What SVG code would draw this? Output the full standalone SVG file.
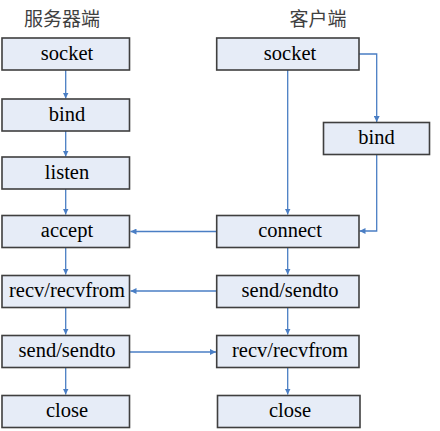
<svg xmlns="http://www.w3.org/2000/svg" width="440" height="431" viewBox="0 0 440 431">
<defs>
<style>
.box{fill:#E6ECF7;stroke:#3F3F3F;stroke-width:1.6}
.lbl{font-family:"Liberation Serif",Tinos,"Noto Serif","DejaVu Serif",Times,serif;font-size:20.5px;fill:#000;text-anchor:middle}
.ttl{font-family:"Noto Sans CJK SC","DejaVu Sans",sans-serif;font-size:19px;fill:#404040;text-anchor:middle}
.con{fill:none;stroke:#4A7EC4;stroke-width:1.3}
</style>
<marker id="ah" viewBox="0 0 10 10" refX="10" refY="5" markerWidth="6" markerHeight="6" markerUnits="userSpaceOnUse" orient="auto">
<path d="M0,0 L10,5 L0,10 z" fill="#4A7EC4"/>
</marker>
</defs>
<rect width="440" height="431" fill="#fff"/>
<text class="ttl" x="62" y="26">服务器端</text>
<text class="ttl" x="318" y="26">客户端</text>
<g id="connectors">
<line class="con" x1="65.7" y1="70" x2="65.7" y2="98.5" marker-end="url(#ah)"/>
<line class="con" x1="65.7" y1="131" x2="65.7" y2="156.5" marker-end="url(#ah)"/>
<line class="con" x1="65.7" y1="189" x2="65.7" y2="214.5" marker-end="url(#ah)"/>
<line class="con" x1="65.7" y1="248" x2="65.7" y2="274.5" marker-end="url(#ah)"/>
<line class="con" x1="65.7" y1="308" x2="65.7" y2="334.5" marker-end="url(#ah)"/>
<line class="con" x1="65.7" y1="368" x2="65.7" y2="394.5" marker-end="url(#ah)"/>
<line class="con" x1="287.7" y1="70" x2="287.7" y2="214.5" marker-end="url(#ah)"/>
<polyline class="con" points="359,54 376.7,54 376.7,122" marker-end="url(#ah)"/>
<polyline class="con" points="376.7,155 376.7,231 359.5,231" marker-end="url(#ah)"/>
<line class="con" x1="287.7" y1="248" x2="287.7" y2="274.5" marker-end="url(#ah)"/>
<line class="con" x1="287.7" y1="308" x2="287.7" y2="334.5" marker-end="url(#ah)"/>
<line class="con" x1="287.7" y1="368" x2="287.7" y2="394.5" marker-end="url(#ah)"/>
<line class="con" x1="216.7" y1="231.5" x2="130.5" y2="231.5" marker-end="url(#ah)"/>
<line class="con" x1="216.7" y1="291" x2="130.5" y2="291" marker-end="url(#ah)"/>
<line class="con" x1="130" y1="352" x2="216" y2="352" marker-end="url(#ah)"/>
</g>
<g id="s_socket"><rect class="box" x="2" y="38" width="127.5" height="32"/><text class="lbl" x="67" y="59.5">socket</text></g>
<g id="s_bind"><rect class="box" x="2" y="99" width="127.5" height="32"/><text class="lbl" x="67" y="120.5">bind</text></g>
<g id="s_listen"><rect class="box" x="2" y="157" width="127.5" height="32"/><text class="lbl" x="67" y="178.5">listen</text></g>
<g id="s_accept"><rect class="box" x="2" y="215.5" width="127.5" height="32"/><text class="lbl" x="67" y="237">accept</text></g>
<g id="s_recv"><rect class="box" x="2" y="275.5" width="127.5" height="32"/><text class="lbl" x="67" y="297">recv/recvfrom</text></g>
<g id="s_send"><rect class="box" x="2" y="335.5" width="127.5" height="32"/><text class="lbl" x="67" y="357">send/sendto</text></g>
<g id="s_close"><rect class="box" x="2" y="395.5" width="127.5" height="32"/><text class="lbl" x="67" y="417">close</text></g>
<g id="c_socket"><rect class="box" x="216.7" y="38" width="142.3" height="32"/><text class="lbl" x="290" y="59.5">socket</text></g>
<g id="c_bind"><rect class="box" x="323.5" y="122.5" width="106" height="32"/><text class="lbl" x="376.5" y="144">bind</text></g>
<g id="c_connect"><rect class="box" x="216.7" y="215.5" width="142.3" height="32"/><text class="lbl" x="290" y="237">connect</text></g>
<g id="c_send"><rect class="box" x="216.7" y="275.5" width="142.3" height="32"/><text class="lbl" x="290" y="297">send/sendto</text></g>
<g id="c_recv"><rect class="box" x="216.7" y="335.5" width="142.3" height="32"/><text class="lbl" x="290" y="357">recv/recvfrom</text></g>
<g id="c_close"><rect class="box" x="217.5" y="395.5" width="142.5" height="32"/><text class="lbl" x="290" y="417">close</text></g>
</svg>
